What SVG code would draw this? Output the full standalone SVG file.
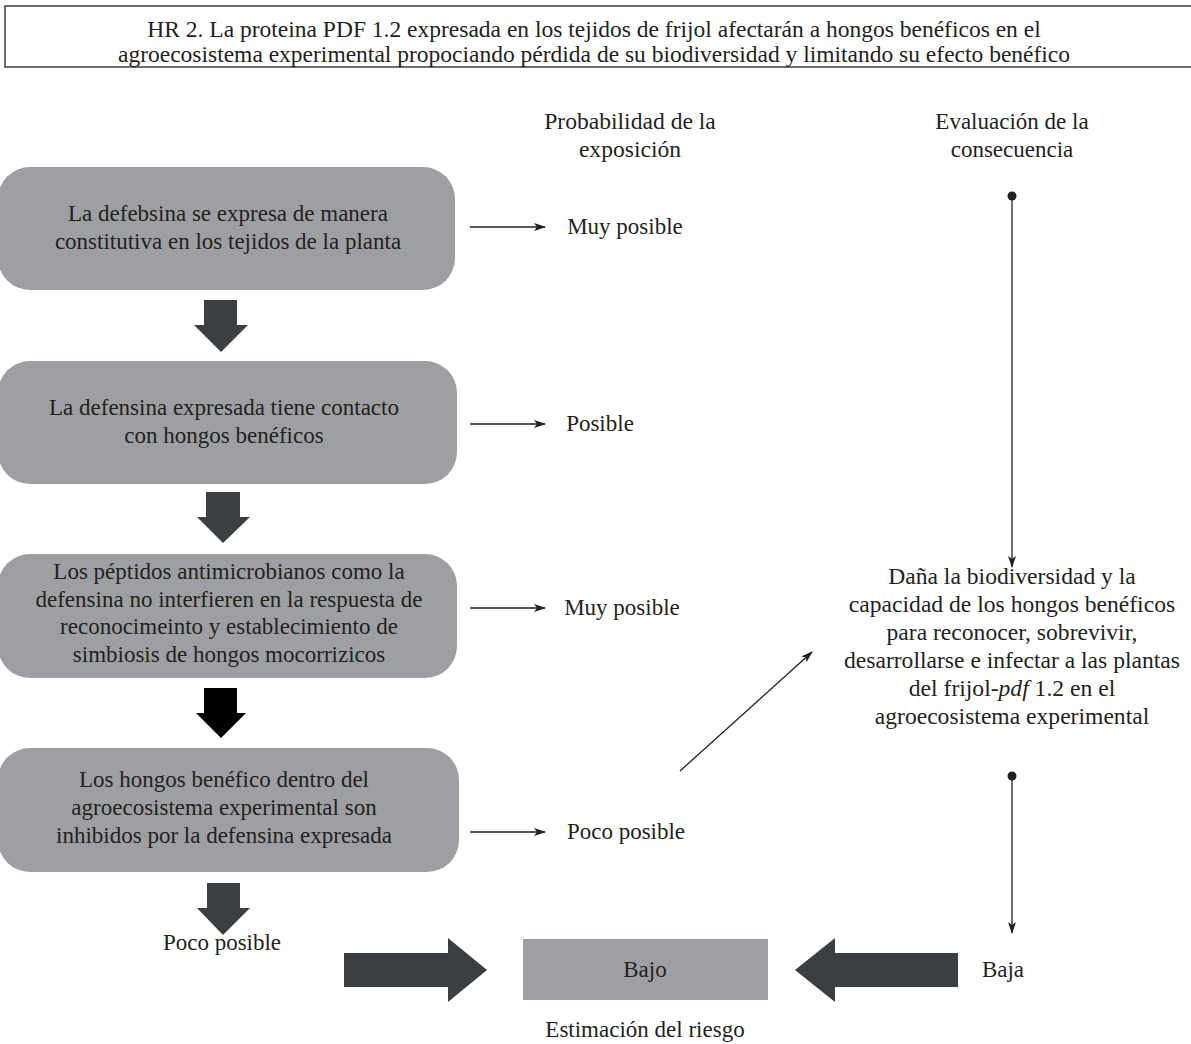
<svg xmlns="http://www.w3.org/2000/svg" width="1191" height="1044" viewBox="0 0 1191 1044">
  <style>
    text { font-family: "Liberation Serif", "DejaVu Serif", serif; font-size: 23px; fill: #231f20; text-anchor: middle; }
    .title { font-size: 23.5px; }
    .wide { font-size: 23.6px; }
    .box { fill: #9d9fa2; }
    .big { fill: #3c3f42; }
    .blk { fill: #000000; }
    .thin { stroke: #231f20; stroke-width: 1.3; fill: none; }
  </style>
  <defs>
    <marker id="head" viewBox="0 0 12 8" refX="11" refY="4" markerWidth="12" markerHeight="8" markerUnits="userSpaceOnUse" orient="auto">
      <path d="M0,0 L12,4 L0,8 L3,4 Z" fill="#231f20"/>
    </marker>
  </defs>
  <rect width="1191" height="1044" fill="#ffffff"/>

  <!-- hypothesis statement -->
  <g id="hypothesis">
    <rect x="5" y="6" width="1195" height="61" fill="none" stroke="#231f20" stroke-width="1.3"/>
    <text class="title" x="594" y="37">HR 2. La proteina PDF 1.2 expresada en los tejidos de frijol afectarán a hongos benéficos en el</text>
    <text class="title" x="594" y="62">agroecosistema experimental propociando pérdida de su biodiversidad y limitando su efecto benéfico</text>
  </g>

  <!-- column headings -->
  <g id="head-probability">
    <text class="wide" x="630" y="129">Probabilidad de la</text>
    <text class="wide" x="630" y="157">exposición</text>
  </g>
  <g id="head-consequence">
    <text x="1012" y="129">Evaluación de la</text>
    <text x="1012" y="157">consecuencia</text>
  </g>

  <!-- pathway steps -->
  <g id="step1">
    <rect class="box" x="-2" y="167" width="457" height="123" rx="32"/>
    <text x="228" y="221">La defebsina se expresa de manera</text>
    <text x="228" y="249">constitutiva en los tejidos de la planta</text>
  </g>
  <g id="step2">
    <rect class="box" x="-2" y="361" width="459" height="123" rx="32"/>
    <text x="224" y="415">La defensina expresada tiene contacto</text>
    <text x="224" y="443">con hongos benéficos</text>
  </g>
  <g id="step3">
    <rect class="box" x="-2" y="554" width="459" height="124" rx="32"/>
    <text x="229" y="579">Los péptidos antimicrobianos como la</text>
    <text x="229" y="607">defensina no interfieren en la respuesta de</text>
    <text x="229" y="634">reconocimeinto y establecimiento de</text>
    <text x="229" y="662">simbiosis de hongos mocorrizicos</text>
  </g>
  <g id="step4">
    <rect class="box" x="-2" y="748" width="461" height="124" rx="32"/>
    <text x="224" y="787">Los hongos benéfico dentro del</text>
    <text x="224" y="815">agroecosistema experimental son</text>
    <text x="224" y="843">inhibidos por la defensina expresada</text>
  </g>

  <!-- probability ratings -->
  <g id="prob1"><text x="625" y="234">Muy posible</text></g>
  <g id="prob2"><text x="600" y="431">Posible</text></g>
  <g id="prob3"><text x="622" y="615">Muy posible</text></g>
  <g id="prob4"><text x="626" y="839">Poco posible</text></g>
  <g id="prob-final"><text x="222" y="950">Poco posible</text></g>

  <!-- consequence -->
  <g id="consequence" class="wide">
    <text class="wide" x="1012" y="584">Daña la biodiversidad y la</text>
    <text class="wide" x="1012" y="612">capacidad de los hongos benéficos</text>
    <text class="wide" x="1012" y="640">para reconocer, sobrevivir,</text>
    <text class="wide" x="1012" y="668">desarrollarse e infectar a las plantas</text>
    <text class="wide" x="1012" y="696">del frijol-<tspan font-style="italic">pdf</tspan> 1.2 en el</text>
    <text class="wide" x="1012" y="724">agroecosistema experimental</text>
  </g>
  <g id="cons-final"><text x="1003" y="977">Baja</text></g>

  <!-- risk estimate -->
  <g id="risk">
    <rect class="box" x="523" y="939" width="245" height="61"/>
    <text x="645" y="977">Bajo</text>
    <text x="645" y="1037">Estimación del riesgo</text>
  </g>

  <!-- connectors -->
  <g id="connectors">
    <!-- block arrows between steps -->
    <path class="big" d="M204,300 H237 V325 H248 L221,352 L194,325 H204 Z"/>
    <path class="big" d="M206,492 H240 V517 H250 L223,543 L197,517 H206 Z"/>
    <path class="blk" d="M204,688 H237 V713 H246 L221,738 L196,713 H204 Z"/>
    <path class="big" d="M207,883 H240 V908 H250 L223,935 L197,908 H207 Z"/>
    <!-- block arrows into the risk estimate -->
    <path class="big" d="M344,953 H448 V938 L487,970 L448,1002 V987 H344 Z"/>
    <path class="big" d="M958,953 H835 V938 L795,970 L835,1002 V987 H958 Z"/>
    <!-- step to rating arrows -->
    <line class="thin" x1="470" y1="227" x2="545" y2="227" marker-end="url(#head)"/>
    <line class="thin" x1="470" y1="424" x2="545" y2="424" marker-end="url(#head)"/>
    <line class="thin" x1="470" y1="608" x2="545" y2="608" marker-end="url(#head)"/>
    <line class="thin" x1="470" y1="832" x2="545" y2="832" marker-end="url(#head)"/>
    <!-- rating to consequence -->
    <line class="thin" x1="680" y1="771" x2="812" y2="652" marker-end="url(#head)"/>
    <!-- consequence lines -->
    <circle cx="1012" cy="196" r="4.5" fill="#231f20"/>
    <line class="thin" x1="1012" y1="196" x2="1012" y2="567" marker-end="url(#head)"/>
    <circle cx="1012" cy="776" r="4.5" fill="#231f20"/>
    <line class="thin" x1="1012" y1="776" x2="1012" y2="933" marker-end="url(#head)"/>
  </g>
</svg>
